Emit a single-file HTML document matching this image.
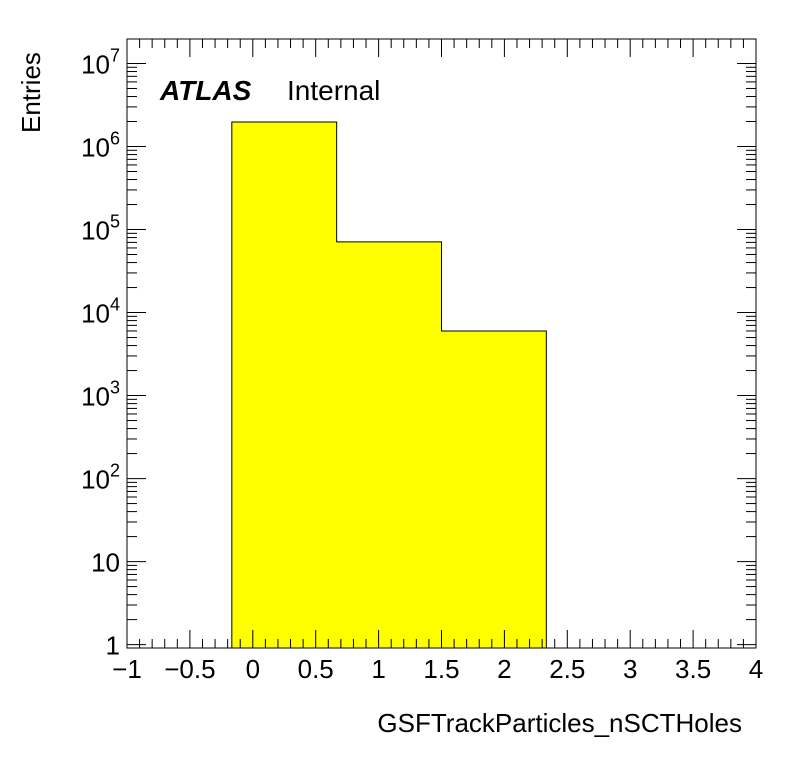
<!DOCTYPE html>
<html><head><meta charset="utf-8"><style>
body{margin:0;background:#fff}
svg text{font-family:"Liberation Sans",Arial,sans-serif}
</style></head><body>
<svg id="c" width="796" height="772" xmlns="http://www.w3.org/2000/svg"></svg>
<script>
const binEdges=[-0.1667,0.6667,1.5,2.3333];
const binValues=[1.97e6,7.1e4,6.0e3];
const xTickLabels=["\u22121","\u22120.5","0","0.5","1","1.5","2","2.5","3","3.5","4"];
const xTickValues=[-1,-0.5,0,0.5,1,1.5,2,2.5,3,3.5,4];
const yTickExps=[0,1,2,3,4,5,6,7];
const L=127,R=756,T=39,B=648,xmin=-1,xmax=4,lymin=Math.log10(0.91),lymax=7.295;
const X=v=>L+(v-xmin)/(xmax-xmin)*(R-L);
const Y=v=>B-(Math.log10(v)-lymin)/(lymax-lymin)*(B-T);
const s=document.getElementById('c');const NS="http://www.w3.org/2000/svg";
function mk(t,a,p){const e=document.createElementNS(NS,t);for(const k in a)e.setAttribute(k,a[k]);(p||s).appendChild(e);return e;}
// bars
const path=["M",X(binEdges[0]),B];
for(let i=0;i<binValues.length;i++){path.push("L",X(binEdges[i]),Y(binValues[i]),"L",X(binEdges[i+1]),Y(binValues[i]));}
path.push("L",X(binEdges[binEdges.length-1]),B,"Z");
const h=mk('path',{d:path.join(' '),fill:'#ffff00',stroke:'#000','stroke-width':1});


const ax=mk('g',{stroke:'#000','stroke-width':1});


// x ticks
for(let k=0;k<=50;k++){const v=xmin+k*0.1;const x=X(v);const len=(k%5===0)?18:9;
mk('line',{x1:x,x2:x,y1:B,y2:B-len},ax);mk('line',{x1:x,x2:x,y1:T,y2:T+len},ax);}
// y ticks
for(let e=-1;e<=7;e++){for(let m=1;m<=9;m++){const v=m*Math.pow(10,e);const ly=Math.log10(v);if(ly<lymin||ly>lymax)continue;const y=Y(v);const len=m===1?19:10;
mk('line',{x1:L,x2:L+len,y1:y,y2:y},ax);mk('line',{x1:R,x2:R-len,y1:y,y2:y},ax);}}
mk('rect',{x:L,y:T,width:R-L,height:B-T,fill:'none'},ax);
// x labels
xTickValues.forEach((v,i)=>{const t=mk('text',{x:X(v),y:678,'font-size':26,'text-anchor':'middle'});t.textContent=xTickLabels[i];

});
// y labels
yTickExps.forEach(e=>{const y=Y(Math.pow(10,e))+10;let t;
if(e===0){t=mk('text',{x:120,y:y,'font-size':26,'text-anchor':'end'});t.textContent='1';}
else if(e===1){t=mk('text',{x:120,y:y,'font-size':26,'text-anchor':'end'});t.textContent='10';}
else{t=mk('text',{x:120,y:y,'font-size':26,'text-anchor':'end'});t.innerHTML='10<tspan dy="-12" font-size="18">'+e+'</tspan>';}

});
</script>
<svg width="796" height="772" style="position:absolute;left:0;top:0" xmlns="http://www.w3.org/2000/svg">
<text x="160" y="100" font-family="Liberation Sans,sans-serif" font-size="28" font-weight="bold" font-style="italic">ATLAS</text>
<text x="287" y="100" font-family="Liberation Sans,sans-serif" font-size="28">Internal</text>
<text x="742" y="732" font-family="Liberation Sans,sans-serif" font-size="26" text-anchor="end">GSFTrackParticles_nSCTHoles</text>
<text transform="translate(40,133) rotate(-90)" font-family="Liberation Sans,sans-serif" font-size="26">Entries</text>
</svg>
</body></html>
